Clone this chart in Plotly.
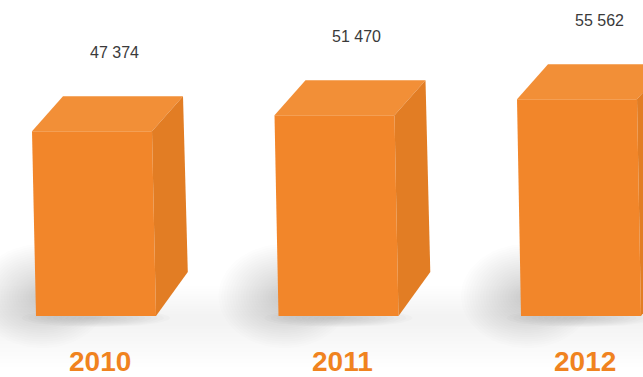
import numpy as np
import plotly.graph_objects as go

# Revenue by year
years = ["2010", "2011", "2012"]
values = [47374, 51470, 55562]
value_labels = ["47 374", "51 470", "55 562"]

# Canvas and scale settings
W, H = 643, 377
PX_X = 242.5      # pixels per category step
PX_Y = 0.0039     # pixels per value unit
X0_PX = 92        # pixel column of the first bar's front centre
BASE_PX = 316     # pixel row of the baseline

x_range = [-X0_PX / PX_X, (W - X0_PX) / PX_X]
y_range = [-(H - BASE_PX) / PX_Y, BASE_PX / PX_Y]


def dx(px):
    return px / PX_X


def dy(px):
    return px / PX_Y


HALF = dx(60)          # half width of the front face
DEPTH_X, DEPTH_Y = dx(31), dy(35)
SKEW = dx(4)           # slight lean of the front face
BOTTOM_RISE = dy(44)   # back-bottom corner of the side face

FRONT = "#F2862A"
TOP = "#F28F37"
SIDE = "#E27D24"
LABEL = "#3a3a3a"
YEAR = "#F0831F"

fig = go.Figure()


def poly(xs, ys, color):
    fig.add_trace(go.Scatter(
        x=list(xs) + [xs[0]], y=list(ys) + [ys[0]],
        mode="lines", fill="toself", fillcolor=color,
        line=dict(width=0, color=color), hoverinfo="skip", showlegend=False))


def blob(cx, cy, rx, ry, layers, alpha):
    t = np.linspace(0, 2 * np.pi, 72)
    for k in range(layers):
        f = 1 - k / layers
        poly(cx + rx * f * np.cos(t), cy + ry * f * np.sin(t),
             f"rgba(120,120,120,{alpha})")


# soft floor tone
for k in range(12):
    f = 1 - k / 12
    fig.add_shape(type="rect", xref="paper", x0=0, x1=1,
                  y0=-dy(45) * f - dy(6), y1=dy(30) * f,
                  fillcolor="rgba(160,160,160,0.012)", line_width=0, layer="below")

# contact shadows
for i, v in enumerate(values):
    blob(i - HALF + dx(10), dy(20), dx(66), dy(52), 24, 0.011)
    blob(i + SKEW, -dy(2), HALF + dx(14), dy(9), 12, 0.03)

# boxes
for i, v in enumerate(values):
    xl, xr = i - HALF, i + HALF
    poly([xl, xr, xr + SKEW, xl + SKEW], [v, v, 0, 0], FRONT)
    poly([xl, xl + DEPTH_X, xr + DEPTH_X, xr], [v, v + DEPTH_Y, v + DEPTH_Y, v], TOP)
    poly([xr, xr + DEPTH_X, xr + DEPTH_X + SKEW * 1.2, xr + SKEW],
         [v, v + DEPTH_Y, BOTTOM_RISE, 0], SIDE)

annotations = []
for i, (v, lab, yr) in enumerate(zip(values, value_labels, years)):
    annotations.append(dict(
        x=i + dx(22), y=v, yshift=79, text=lab, showarrow=False,
        xanchor="center", yanchor="middle",
        font=dict(family="Liberation Sans, Arial, sans-serif", size=16, color=LABEL)))
    annotations.append(dict(
        x=i + dx(8), y=0, yshift=-45, text=f"<b>{yr}</b>", showarrow=False,
        xanchor="center", yanchor="middle",
        font=dict(family="Liberation Sans, Arial, sans-serif", size=28, color=YEAR)))

fig.update_layout(
    width=W, height=H,
    margin=dict(l=0, r=0, t=0, b=0),
    paper_bgcolor="white", plot_bgcolor="white",
    xaxis=dict(range=x_range, visible=False, fixedrange=True),
    yaxis=dict(range=y_range, visible=False, fixedrange=True),
    annotations=annotations,
    showlegend=False,
)

fig.write_html("out.html", config={"displayModeBar": False})
